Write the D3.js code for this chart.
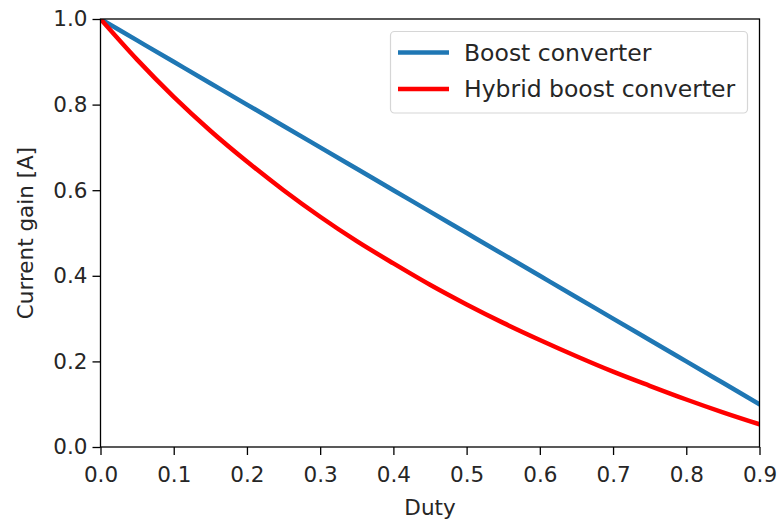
<!DOCTYPE html>
<html><head><meta charset="utf-8">
<script src="https://cdn.jsdelivr.net/npm/d3@7"></script>
<style>body{margin:0;background:#fff}svg{display:block}text{font-family:"DejaVu Sans",sans-serif;fill:#262626}</style>
</head><body><svg id="c" width="777" height="523"></svg>
<script>
const duty = [0,0.05,0.1,0.15,0.2,0.25,0.3,0.35,0.4,0.45,0.5,0.55,0.6,0.65,0.7,0.75,0.8,0.85,0.9];
const boost = [1.0,0.95,0.9,0.85,0.8,0.75,0.7,0.65,0.6,0.55,0.5,0.45,0.4,0.35,0.3,0.25,0.2,0.15,0.1];
const hybrid = [1.0,0.905,0.818,0.739,0.667,0.6,0.538,0.481,0.429,0.379,0.333,0.29,0.25,0.212,0.176,0.143,0.111,0.081,0.053];
const seriesNames = ["Boost converter","Hybrid boost converter"];
const seriesColors = ["#1f77b4","#ff0000"];
const xTicks = [0,0.1,0.2,0.3,0.4,0.5,0.6,0.7,0.8,0.9];
const yTicks = [0,0.2,0.4,0.6,0.8,1.0];

const svg = d3.select("#c");
const L=100.5,R=759.5,T=19,B=447;
const x = d3.scaleLinear().domain([0,0.9]).range([L,R]);
const y = d3.scaleLinear().domain([0,1]).range([B,T]);
const fs = 21.5, lfs = 23.5;

const g = svg.append("g");
const clip = svg.append("clipPath").attr("id","cp").append("rect").attr("x",L).attr("y",T).attr("width",R-L).attr("height",B-T);
const line = d3.line().x((d,i)=>x(duty[i])).y(d=>y(d)).curve(d3.curveMonotoneX);
[boost,hybrid].forEach((s,k)=>{
  g.append("path").datum(s).attr("d",line).attr("fill","none").attr("stroke",seriesColors[k]).attr("stroke-width",4.5).attr("stroke-linecap","square").attr("clip-path","url(#cp)");
});

const xa = svg.append("g").attr("transform",`translate(0,${B})`).call(d3.axisBottom(x).tickValues(xTicks).tickFormat(d3.format(".1f")).tickSize(8).tickPadding(12));
const ya = svg.append("g").attr("transform",`translate(${L},0)`).call(d3.axisLeft(y).tickValues(yTicks).tickFormat(d3.format(".1f")).tickSize(8).tickPadding(5));
[xa,ya].forEach(a=>{
  a.select(".domain").remove();
  a.selectAll(".tick line").attr("stroke","#000").attr("stroke-width",1.3);
  a.selectAll(".tick text").attr("font-size",fs).attr("font-family","DejaVu Sans").attr("fill","#262626");
});
svg.append("rect").attr("x",L).attr("y",T).attr("width",R-L).attr("height",B-T).attr("fill","none").attr("stroke","#000").attr("stroke-width",1.3);

svg.append("text").attr("x",(L+R)/2).attr("y",515).attr("text-anchor","middle").attr("font-size",fs).text("Duty");
svg.append("text").attr("transform",`translate(33,${(T+B)/2}) rotate(-90)`).attr("text-anchor","middle").attr("font-size",fs).text("Current gain [A]");

const lg = svg.append("g");
lg.append("rect").attr("x",390.5).attr("y",31.5).attr("width",357).attr("height",81.5).attr("rx",4).attr("fill","#fff").attr("fill-opacity",0.8).attr("stroke","#d6d6d6").attr("stroke-width",1.2);
seriesNames.forEach((n,i)=>{
  const yy = 52.5 + i*36.5;
  lg.append("line").attr("x1",398).attr("x2",449).attr("y1",yy).attr("y2",yy).attr("stroke",seriesColors[i]).attr("stroke-width",4.5);
  lg.append("text").attr("x",464).attr("y",yy).attr("dy","0.36em").attr("font-size",lfs).text(n);
});
</script></body></html>
